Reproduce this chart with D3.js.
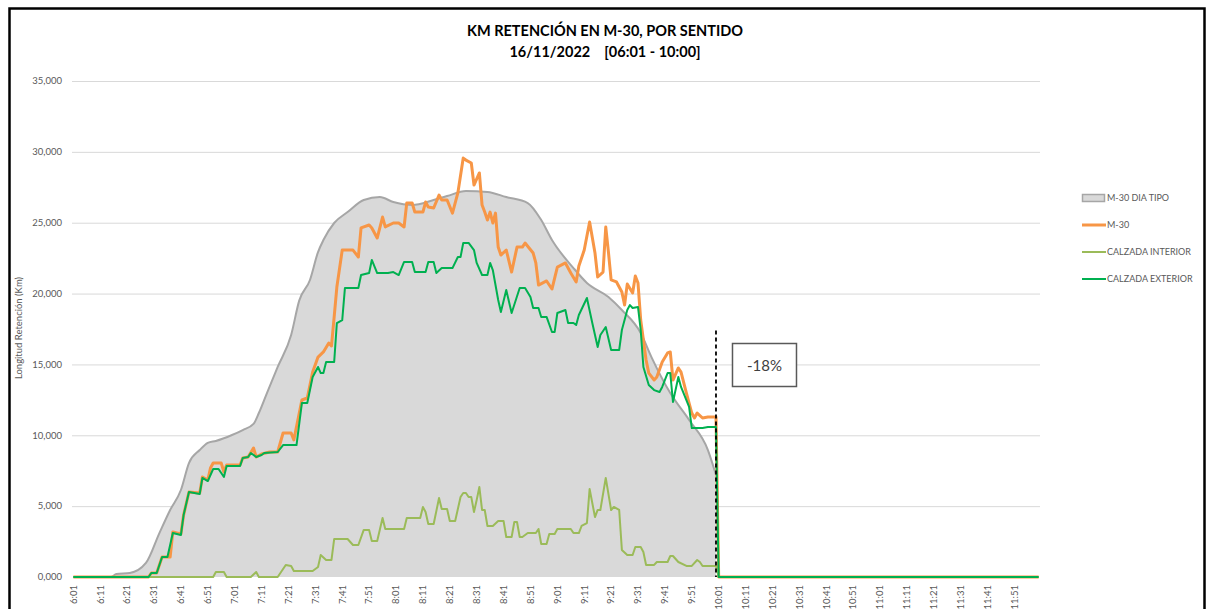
<!DOCTYPE html>
<html>
<head>
<meta charset="utf-8">
<script src="https://cdn.jsdelivr.net/npm/d3@7/dist/d3.min.js"></script>
<style>
  html, body { margin: 0; padding: 0; background: #fff; }
  svg { display: block; font-family: Lato, "Open Sans", sans-serif; }
</style>
</head>
<body>
<svg id="chart" width="1208" height="609"></svg>
<script>
// minutes after 6:00 (1 = 6:01), km of queue
var diaTipo = [[1,0],[15,0],[17,0.21],[22,0.28],[28,0.99],[33,3.1],[37,4.73],[41,6.14],[44,8.04],[48,8.96],[51,9.46],[54,9.6],[60,10.02],[64,10.37],[68,10.8],[70,11.57],[73,12.98],[77,14.82],[82,17.08],[85,19.5],[89,20.96],[92,22.93],[94,23.78],[98,24.98],[103,25.75],[109,26.6],[115,26.81],[120,26.46],[127,26.25],[135,26.6],[140,26.88],[147,27.24],[155,27.17],[162,26.81],[170,26.39],[175,25.19],[179,23.78],[187,21.8],[192,20.75],[200,19.76],[205,18.84],[212,17.22],[216,15.52],[223,12.98],[230,11.08],[237,8.96],[240,7.2]];

var m30 = [[1,0],[29,0],[30,0.28],[32,0.28],[34,1.41],[37,1.41],[38,3.18],[41,3.03],[42,4.37],[44,6.0],[48,5.93],[49,7.06],[51,6.84],[52,7.69],[53,8.04],[56,8.04],[57,7.41],[58,7.9],[63,7.9],[64,8.4],[66,8.47],[68,9.1],[69,8.47],[71,8.68],[74,8.82],[77,8.82],[79,10.16],[82,10.16],[83,9.67],[86,12.49],[88,12.63],[90,14.46],[92,15.52],[94,15.88],[96,16.51],[97,16.3],[98,18.35],[99,20.46],[101,23.07],[105,23.07],[107,22.58],[108,24.63],[111,24.84],[112,24.63],[114,23.92],[116,25.4],[117,24.7],[120,24.98],[122,24.98],[124,24.7],[125,26.39],[127,26.39],[128,25.75],[131,25.75],[132,26.46],[133,26.11],[135,26.04],[137,26.95],[138,26.6],[140,26.6],[142,25.68],[144,27.1],[146,29.56],[147,29.42],[149,29.21],[150,27.66],[152,28.51],[153,26.25],[154,25.75],[155,25.19],[156,25.75],[157,24.98],[158,25.68],[159,23.28],[160,22.72],[162,23.07],[164,21.52],[166,23.28],[168,23.28],[169,23.57],[172,22.86],[173,22.16],[174,20.6],[177,20.89],[179,20.32],[181,21.87],[184,22.16],[186,21.45],[188,20.82],[189,21.94],[191,23.07],[193,25.05],[195,22.86],[196,21.17],[198,21.52],[199,24.7],[200,22.93],[201,20.96],[203,20.82],[205,20.11],[206,19.19],[207,20.67],[209,20.04],[210,21.24],[211,20.74],[212,18.13],[214,15.31],[215,14.39],[217,13.9],[218,14.11],[220,15.17],[222,15.81],[223,15.88],[224,13.9],[226,14.75],[227,14.46],[229,12.98],[231,11.57],[232,11.22],[233,11.57],[235,11.22],[237,11.29],[240,11.29],[241,0],[360,0]];

var calzadaInterior = [[1,0],[53,0],[54,0.35],[57,0.35],[58,0],[67,0],[69,0.35],[70,0],[77,0],[78,0.28],[80,0.85],[82,0.78],[83,0.42],[90,0.42],[92,0.71],[93,1.55],[95,1.2],[97,1.2],[98,2.68],[103,2.68],[105,2.26],[107,2.26],[109,3.32],[111,3.32],[112,2.54],[114,2.54],[116,4.16],[117,3.39],[124,3.39],[125,4.16],[130,4.16],[131,4.94],[132,4.59],[133,3.74],[135,3.74],[137,5.57],[138,4.8],[140,4.8],[141,3.95],[143,3.95],[145,5.64],[146,5.93],[147,5.93],[148,5.64],[149,5.64],[150,4.59],[151,5.43],[152,6.35],[153,4.73],[154,4.73],[155,3.6],[157,3.6],[159,3.95],[161,3.95],[162,2.82],[164,2.82],[165,3.88],[166,3.88],[167,2.82],[168,2.82],[170,3.1],[173,3.1],[174,3.39],[175,2.33],[177,2.33],[178,3.03],[180,3.03],[181,3.39],[186,3.39],[187,3.1],[189,3.1],[190,3.6],[192,3.81],[193,6.21],[195,4.23],[196,4.73],[197,4.73],[199,6.99],[201,4.73],[202,4.94],[204,4.73],[205,1.91],[207,1.55],[209,1.55],[210,2.12],[212,2.12],[213,1.76],[214,0.85],[217,0.85],[218,1.06],[222,1.06],[223,1.48],[224,1.48],[226,1.06],[229,0.78],[231,0.78],[233,1.2],[234,1.06],[235,0.78],[240,0.78],[241,0],[360,0]];

var calzadaExterior = [[1,0],[29,0],[30,0.28],[32,0.28],[34,1.41],[36,1.41],[38,3.1],[41,2.96],[42,4.37],[44,6.0],[48,5.86],[49,6.99],[51,6.77],[53,7.62],[55,7.62],[57,7.06],[58,7.83],[63,7.83],[64,8.4],[66,8.47],[67,8.75],[69,8.47],[71,8.61],[72,8.75],[77,8.82],[79,9.31],[84,9.31],[86,12.28],[88,12.28],[90,14.11],[92,14.82],[93,14.39],[94,14.39],[95,15.17],[98,15.17],[99,17.92],[101,18.13],[102,20.39],[107,20.39],[108,21.31],[111,21.45],[112,22.37],[114,21.45],[118,21.45],[120,21.52],[122,21.31],[124,22.23],[127,22.23],[128,21.52],[132,21.52],[133,22.23],[135,22.23],[136,21.45],[138,21.8],[142,21.8],[144,22.58],[145,22.58],[146,23.57],[148,23.57],[150,23.07],[151,22.16],[153,21.31],[155,21.31],[156,22.16],[157,21.66],[159,19.55],[160,18.7],[162,20.25],[164,18.63],[167,20.39],[169,20.39],[171,19.76],[172,18.98],[174,18.98],[175,18.35],[177,18.35],[179,17.29],[180,17.29],[181,18.63],[184,18.84],[185,17.92],[187,17.92],[188,17.78],[189,18.49],[192,19.69],[194,17.92],[196,16.23],[197,17.08],[199,17.64],[201,16.02],[204,16.02],[205,17.43],[207,18.84],[208,19.19],[209,18.98],[211,19.05],[212,17.43],[213,14.82],[215,13.55],[217,13.19],[219,13.05],[220,13.41],[222,14.39],[223,14.39],[224,12.35],[226,14.11],[227,13.41],[230,12.0],[231,10.51],[235,10.51],[237,10.58],[240,10.58],[241,0],[360,0]];

var yTicks = [0, 5, 10, 15, 20, 25, 30, 35];
var xTickMinutes = d3.range(1, 360, 10);
var cutMinute = 240;        // 10:00
var cutTop = 17.4;          // height of dashed marker (km)
var diffLabel = "-18%";
var legendNames = ["M-30 DIA TIPO", "M-30", "CALZADA INTERIOR", "CALZADA EXTERIOR"];

var colors = {
    tipoFill: "#d9d9d9",
    tipoStroke: "#a6a6a6",
    m30: "#f79646",
    interior: "#9bbb59",
    exterior: "#00b050",
    grid: "#d9d9d9",
    text: "#595959"
};

var svg = d3.select("#chart");

var x = d3.scaleLinear().domain([0.5, 360.5]).range([72, 1040]);
var y = d3.scaleLinear().domain([0, 35]).range([577, 81]);

var es = d3.formatLocale({decimal: ",", thousands: ".", grouping: [3], currency: ["", "€"]});
var fmt = es.format(".3f");

// frame
svg.append("rect")
    .attr("x", 9.5).attr("y", 8.5)
    .attr("width", 1195).attr("height", 640)
    .attr("fill", "none")
    .attr("stroke", "#000")
    .attr("stroke-width", 2.5);

// title
var title = svg.append("text")
    .attr("text-anchor", "middle")
    .attr("font-weight", "bold")
    .attr("font-size", 14.5)
    .attr("fill", "#000");
title.append("tspan").attr("x", 605).attr("y", 36).text("KM RETENCIÓN EN M-30, POR SENTIDO");
title.append("tspan").attr("x", 605).attr("y", 57).text("16/11/2022\u00a0\u00a0\u00a0\u00a0[06:01 - 10:00]");

// gridlines + y labels
var yAxis = svg.append("g").attr("class", "y-axis");
yAxis.selectAll("line")
    .data(yTicks.slice(1))
    .join("line")
    .attr("x1", x.range()[0]).attr("x2", x.range()[1])
    .attr("y1", d => y(d) + 0.5).attr("y2", d => y(d) + 0.5)
    .attr("stroke", colors.grid)
    .attr("stroke-width", 1);

yAxis.selectAll("text")
    .data(yTicks)
    .join("text")
    .attr("x", 62)
    .attr("y", d => y(d))
    .attr("dy", "0.35em")
    .attr("text-anchor", "end")
    .attr("font-size", 9.5)
    .attr("fill", colors.text)
    .text(d => fmt(d));

svg.append("text")
    .attr("transform", "translate(22,328) rotate(-90)")
    .attr("text-anchor", "middle")
    .attr("font-size", 9.5)
    .attr("fill", colors.text)
    .text("Longitud Retención (Km)");

// x labels
var base = new Date(2022, 10, 16, 6, 0);
var timeFmt = d3.timeFormat("%-H:%M");
svg.append("g").attr("class", "x-axis")
    .selectAll("text")
    .data(xTickMinutes)
    .join("text")
    .attr("transform", d => "translate(" + x(d) + ",585) rotate(-90)")
    .attr("dy", "0.35em")
    .attr("text-anchor", "end")
    .attr("font-size", 9.5)
    .attr("fill", colors.text)
    .text(d => timeFmt(d3.timeMinute.offset(base, d)));

// series
var area = d3.area()
    .curve(d3.curveMonotoneX)
    .x(d => x(d[0]))
    .y0(y(0))
    .y1(d => y(d[1]));

var smooth = d3.line()
    .curve(d3.curveMonotoneX)
    .x(d => x(d[0]))
    .y(d => y(d[1]));

var line = d3.line()
    .x(d => x(d[0]))
    .y(d => y(d[1]));

svg.append("path")
    .datum(diaTipo)
    .attr("d", area)
    .attr("fill", colors.tipoFill);

svg.append("path")
    .datum(diaTipo)
    .attr("d", smooth)
    .attr("fill", "none")
    .attr("stroke", colors.tipoStroke)
    .attr("stroke-width", 2);

svg.append("path")
    .datum(m30)
    .attr("d", line)
    .attr("fill", "none")
    .attr("stroke", colors.m30)
    .attr("stroke-width", 3)
    .attr("stroke-linejoin", "round");

svg.append("path")
    .datum(calzadaInterior)
    .attr("d", line)
    .attr("fill", "none")
    .attr("stroke", colors.interior)
    .attr("stroke-width", 2)
    .attr("stroke-linejoin", "round");

svg.append("path")
    .datum(calzadaExterior)
    .attr("d", line)
    .attr("fill", "none")
    .attr("stroke", colors.exterior)
    .attr("stroke-width", 2)
    .attr("stroke-linejoin", "round");

// 10:00 marker and variation box
var cx = x(cutMinute);
svg.append("line")
    .attr("x1", cx).attr("x2", cx)
    .attr("y1", y(cutTop)).attr("y2", y(0))
    .attr("stroke", "#000")
    .attr("stroke-width", 1.8)
    .attr("stroke-dasharray", "4,3");

svg.append("rect")
    .attr("x", cx + 16.5).attr("y", 343.5)
    .attr("width", 64).attr("height", 43)
    .attr("fill", "#fff")
    .attr("stroke", "#595959")
    .attr("stroke-width", 1.5);

svg.append("text")
    .attr("x", cx + 48.5).attr("y", 366)
    .attr("dy", "0.35em")
    .attr("text-anchor", "middle")
    .attr("font-size", 15)
    .attr("fill", "#404040")
    .text(diffLabel);

// legend
var legend = svg.append("g").attr("transform", "translate(1082,198)");
var rows = legend.selectAll("g")
    .data(legendNames)
    .join("g")
    .attr("transform", (d, i) => "translate(0," + i * 27 + ")");

rows.each(function(d, i) {
    var g = d3.select(this);
    if (i === 0) {
        g.append("rect")
            .attr("x", 0.5).attr("y", -3.5)
            .attr("width", 22).attr("height", 7)
            .attr("fill", colors.tipoFill)
            .attr("stroke", colors.tipoStroke)
            .attr("stroke-width", 1.5);
    } else {
        var c = [null, colors.m30, colors.interior, colors.exterior][i];
        g.append("line")
            .attr("x1", 0).attr("x2", 24)
            .attr("y1", 0).attr("y2", 0)
            .attr("stroke", c)
            .attr("stroke-width", i === 1 ? 3 : 2);
    }
});

rows.append("text")
    .attr("x", 25)
    .attr("dy", "0.35em")
    .attr("font-size", 9)
    .attr("fill", colors.text)
    .text(d => d);
</script>
</body>
</html>
